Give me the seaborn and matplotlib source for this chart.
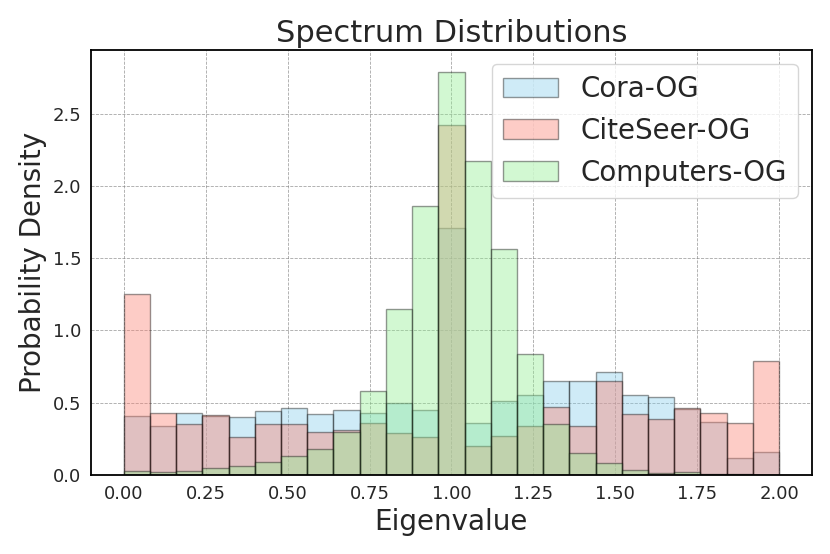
import numpy as np
import pandas as pd
import matplotlib
matplotlib.use("Agg")
import matplotlib.pyplot as plt
import seaborn as sns

# Histogram bins (25 equal bins on [0, 2])
bin_edges = [round(0.08 * i, 2) for i in range(26)]
bin_centers = [round(0.08 * i + 0.04, 2) for i in range(25)]

cora_density = [0.41, 0.34, 0.43, 0.41, 0.40, 0.44, 0.46, 0.42, 0.45, 0.43,
                0.50, 0.45, 1.71, 0.36, 0.51, 0.55, 0.65, 0.65, 0.71, 0.55,
                0.54, 0.455, 0.37, 0.12, 0.16]
citeseer_density = [1.25, 0.43, 0.35, 0.415, 0.26, 0.35, 0.35, 0.30, 0.31, 0.36,
                    0.29, 0.26, 2.42, 0.20, 0.27, 0.34, 0.47, 0.34, 0.65, 0.42,
                    0.39, 0.46, 0.43, 0.36, 0.79]
computers_density = [0.03, 0.018, 0.03, 0.048, 0.064, 0.09, 0.13, 0.18, 0.30, 0.58,
                     1.15, 1.86, 2.79, 2.17, 1.56, 0.84, 0.35, 0.15, 0.085, 0.032,
                     0.016, 0.018, 0.01, 0.004, 0.002]

series_names = ["Cora-OG", "CiteSeer-OG", "Computers-OG"]
series_values = [cora_density, citeseer_density, computers_density]
series_colors = ["skyblue", "salmon", "lightgreen"]

sns.set_style("white")
plt.rcParams['font.family'] = ['DejaVu Sans']

fig = plt.figure(figsize=(8.3, 5.54), dpi=100)
ax = fig.add_axes([0.1096, 0.1426, 0.8686, 0.7672])

for name, vals, col in zip(series_names, series_values, series_colors):
    df = pd.DataFrame({"x": bin_centers, "w": vals})
    sns.histplot(data=df, x="x", weights="w", bins=bin_edges, stat="count",
                 color=col, alpha=0.4, edgecolor=(0, 0, 0, 0.4), linewidth=1.0,
                 label=name, ax=ax)

ax.set_xticks([0.0, 0.25, 0.5, 0.75, 1.0, 1.25, 1.5, 1.75, 2.0])
ax.set_xticklabels(["0.00", "0.25", "0.50", "0.75", "1.00", "1.25", "1.50", "1.75", "2.00"])
ax.set_yticks([0.0, 0.5, 1.0, 1.5, 2.0, 2.5])
ax.set_xlim(-0.1, 2.1)
ax.set_ylim(0, 2.94)
ax.grid(True, linestyle="--", color="gray", alpha=0.7, linewidth=0.6)
ax.set_axisbelow(True)
for s in ax.spines.values():
    s.set_color("black")
    s.set_linewidth(1.3)
ax.tick_params(labelsize=13, colors="#262626")
ax.set_xlabel("Eigenvalue", fontsize=20, color="#262626")
ax.set_ylabel("Probability Density", fontsize=20, color="#262626")
ax.set_title("Spectrum Distributions", fontsize=22, color="#262626")
ax.legend(fontsize=20, loc="upper right")

fig.savefig("out.png", dpi=100)
